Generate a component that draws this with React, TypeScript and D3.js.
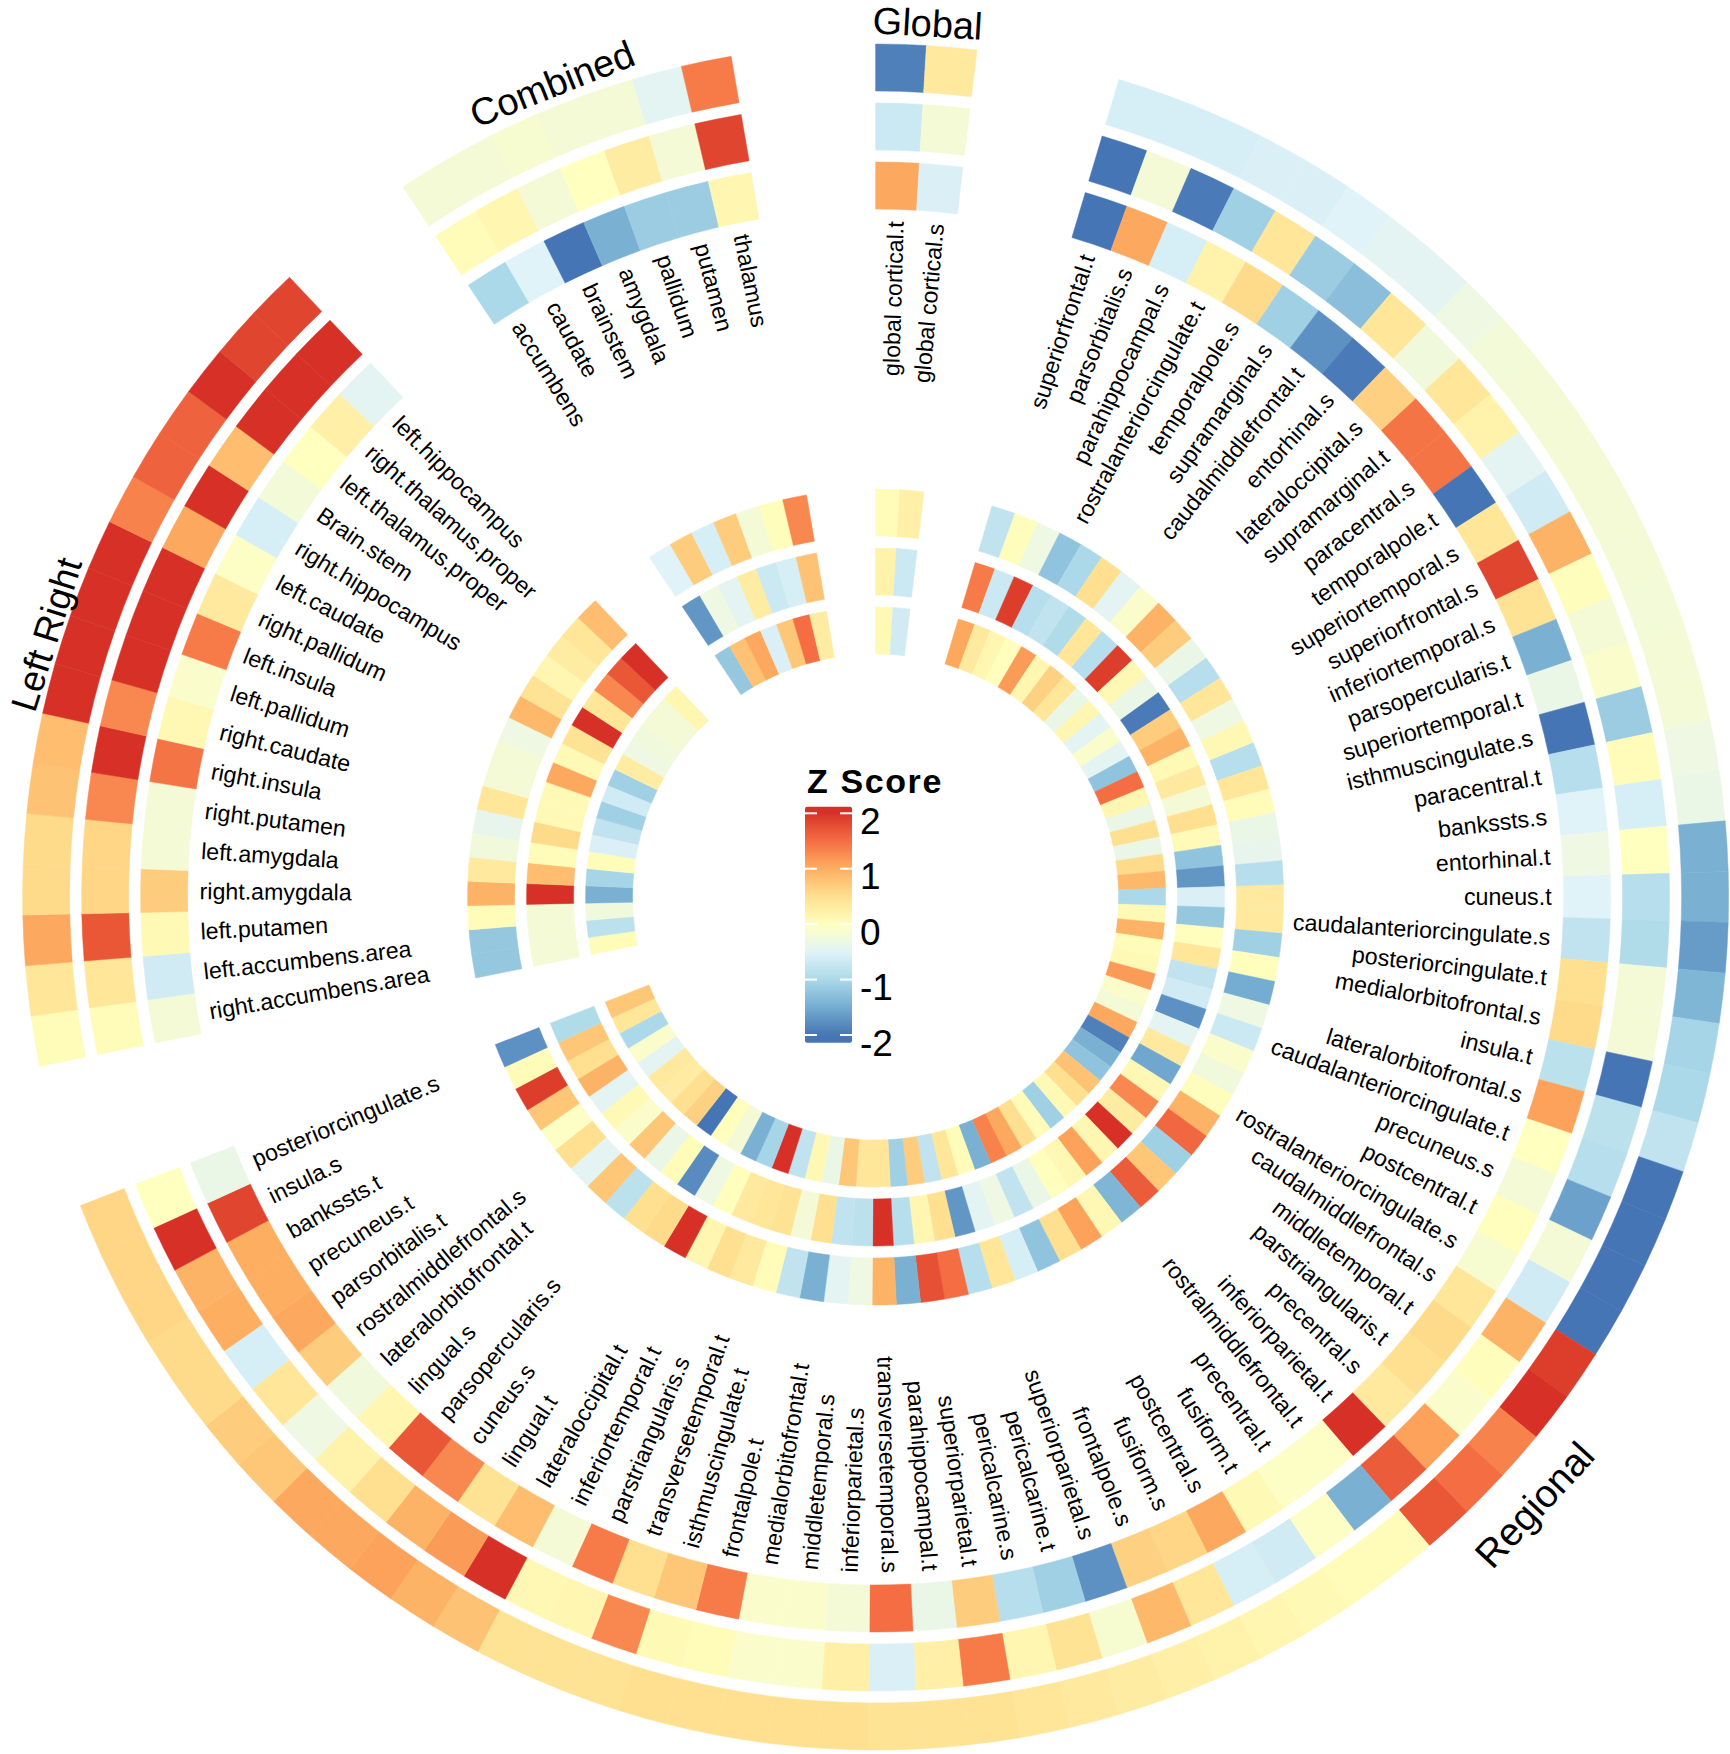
import React from "react";
import * as d3 from "d3";

const W = 1730;
const H = 1754;
const CX = 875.6;
const CY = 897;

const globalLabels = ["global cortical.t", "global cortical.s"];
const regionalLabels = ["superiorfrontal.t","parsorbitalis.s","parahippocampal.s","rostralanteriorcingulate.t","temporalpole.s","supramarginal.s","caudalmiddlefrontal.t","entorhinal.s","lateraloccipital.s","supramarginal.t","paracentral.s","temporalpole.t","superiortemporal.s","superiorfrontal.s","inferiortemporal.s","parsopercularis.t","superiortemporal.t","isthmuscingulate.s","paracentral.t","bankssts.s","entorhinal.t","cuneus.t","caudalanteriorcingulate.s","posteriorcingulate.t","medialorbitofrontal.s","insula.t","lateralorbitofrontal.s","caudalanteriorcingulate.t","precuneus.s","postcentral.t","rostralanteriorcingulate.s","caudalmiddlefrontal.s","middletemporal.t","parstriangularis.t","precentral.s","inferiorparietal.t","rostralmiddlefrontal.t","precentral.t","fusiform.t","postcentral.s","fusiform.s","frontalpole.s","superiorparietal.s","pericalcarine.t","pericalcarine.s","superiorparietal.t","parahippocampal.t","transversetemporal.s","inferiorparietal.s","middletemporal.s","medialorbitofrontal.t","frontalpole.t","isthmuscingulate.t","transversetemporal.t","parstriangularis.s","inferiortemporal.t","lateraloccipital.t","lingual.t","cuneus.s","parsopercularis.s","lingual.s","lateralorbitofrontal.t","rostralmiddlefrontal.s","parsorbitalis.t","precuneus.t","bankssts.t","insula.s","posteriorcingulate.s"];
const leftRightLabels = ["right.accumbens.area","left.accumbens.area","left.putamen","right.amygdala","left.amygdala","right.putamen","right.insula","right.caudate","left.pallidum","left.insula","right.pallidum","left.caudate","right.hippocampus","Brain.stem","left.thalamus.proper","right.thalamus.proper","left.hippocampus"];
const combinedLabels = ["accumbens","caudate","brainstem","amygdala","pallidum","putamen","thalamus"];

// Global sector, tracks 1 (outermost) .. 6 (innermost)
const globalT1 = [-1.9, 0.35];
const globalT2 = [-0.7, -0.2];
const globalT3 = [1.05, -0.55];
const globalT4 = [0.05, 0.25];
const globalT5 = [0.2, -0.7];
const globalT6 = [0.1, -0.65];

// Regional sector
const regionalT1 = [-0.6,-0.6,-0.6,-0.55,-0.55,-0.5,-0.45,-0.45,-0.3,-0.22,-0.2,-0.2,-0.2,-0.2,-0.2,-0.22,-0.2,-0.2,-0.3,-0.35,-1.45,-1.45,-1.65,-1.4,-1.05,-1.0,-0.8,-2,-2,-2,-2,1.9,2.0,1.35,1.5,1.7,0.05,0.05,0.1,0.15,0.2,0.25,0.3,0.35,0.4,0.45,0.45,0.45,0.5,0.5,0.5,0.5,0.5,0.45,0.45,0.45,0.8,0.95,1.1,1.05,1.05,0.75,0.7,0.55,0.55,0.6,0.6,0.6];
const regionalT2 = [-2,-0.2,-1.95,-1.1,0.4,-1.15,-1.3,0.4,-0.25,0.4,0.2,-0.45,-0.65,0.95,0.03,-0.2,-0.1,-1.15,0.05,-0.6,0.0,-0.9,-0.95,-0.2,-0.2,-2,-0.85,-0.9,-1.6,-0.2,-0.65,0.95,0.03,-0.1,1.1,1.65,-1.45,-0.05,-0.65,-0.6,0.4,0.9,-0.15,0.45,0.15,1.4,0.25,-0.55,0.25,-0.1,-0.1,0.05,0.1,1.3,0.15,0.12,2,1.15,0.95,0.5,0.2,-0.3,0.4,-0.6,1.0,0.95,2,0.0];
const regionalT3 = [-2,1.05,-0.6,0.2,0.55,-1.1,-1.75,-1.95,0.65,1.45,1.45,-2,0.4,1.85,0.45,-1.45,-0.35,-2,-0.9,-0.5,-0.3,-0.5,-0.8,0.5,0.55,-0.85,1.1,0.0,-0.2,0.02,-0.15,0.4,0.55,0.5,0.35,2,-0.05,-0.05,0.1,1.05,0.6,0.65,-1.75,-1.1,-0.9,0.7,-0.35,1.5,-0.2,-0.1,-0.1,1.4,0.75,0.5,1.4,-0.2,0.85,0.45,1.3,1.7,0.15,-0.25,0.7,1.05,1.0,1.0,1.85,-0.35];
const regionalT4 = [-0.8,0.03,-0.3,-1.25,-1.0,0.5,-0.45,-0.1,0.95,0.7,-0.35,-0.9,0.4,-0.3,0.12,-0.9,0.4,0.05,-0.35,-0.4,-0.9,0.35,0.35,-1.1,0.02,-1.5,-0.3,-0.7,-0.1,-0.25,0.03,0.95,1.55,-1.1,0.75,1.65,-1.4,0.12,1.1,0.5,-1.25,-0.6,0.4,-0.9,1.5,1.75,-1.45,0.95,-0.3,-0.45,-1.45,-0.8,0.05,0.35,0.5,0.15,2,0.55,0.5,-0.85,0.75,-0.45,0.5,-0.05,0.75,1.9,0.05,-1.75];
const regionalT5 = [1.4,-0.7,1.9,-0.9,-0.8,-0.95,0.4,-0.9,1.9,0.12,-0.35,-1.95,0.7,0.95,0.1,0.35,-0.2,0.5,0.08,-1.25,-1.7,-0.55,-1.2,0.02,0.4,-0.8,-0.65,-1.75,-0.45,0.35,-1.55,0.12,1.3,0.3,2,0.15,1.1,0.12,0.02,-0.35,-0.8,-0.3,-0.45,-1.7,0.5,0.15,-0.9,2,-0.85,-0.8,0.5,-0.2,0.45,0.4,0.35,0.02,-0.3,-1.8,0.05,-0.35,0.75,-0.1,0.1,-0.45,0.95,0.5,0.75,-0.95];
const regionalT6 = [1.05,0.35,0.15,0.02,1.15,0.15,0.65,0.4,-0.35,0.15,-0.45,-0.1,-0.45,-1.25,1.5,0.15,-0.35,0.5,-0.35,0.55,0.9,-1.0,0.1,0.95,0.05,0.1,1.15,-0.1,-0.2,1.05,-1.9,-1.45,-1.25,0.8,0.5,0.1,-1.1,0.05,0.5,1.05,1.35,-1.45,0.05,0.4,-0.8,0.7,-1.1,0.4,0.4,0.75,-0.35,0.12,-0.8,2,-1.05,-1.45,-0.2,0.02,-2,0.65,0.5,0.3,0.35,-0.45,-0.1,-1.0,0.4,0.75];

// Left Right sector
const leftRightT1 = [0.05,0.4,1.05,0.55,0.55,0.8,0.85,2,2,2,2,1.35,1.6,1.6,2.0,1.85,1.85];
const leftRightT2 = [0.05,0.4,1.7,0.6,0.6,1.3,2.0,1.3,2.0,2.0,2.0,1.05,2.0,0.85,2.0,2.0,2.0];
const leftRightT3 = [-0.2,-0.65,0.1,0.7,-0.2,-0.2,1.45,0.12,-0.1,1.4,0.35,-0.05,-0.6,-0.22,0.0,0.25,-0.45];
const leftRightT4 = [-1.2,-1.2,0.05,0.95,0.35,-0.25,-0.4,0.4,-0.2,-0.2,-0.3,0.9,0.45,0.15,0.3,0.4,0.85];
const leftRightT5 = [-0.2,-0.2,-0.2,2,0.85,0.05,0.55,0.1,0.1,1.05,0.1,0.45,2,0.4,1.3,1.7,2];
const leftRightT6 = [0.05,-0.85,-0.25,-1.45,-1.05,0.05,-0.55,-0.8,-1.1,-0.65,-1.1,0.3,-0.3,-0.25,-0.2,-0.2,0.15];

// Combined sector
const combinedT1 = [-0.2,-0.2,-0.15,-0.2,-0.2,-0.45,1.4];
const combinedT2 = [0.05,0.15,-0.2,0.0,0.3,-0.2,1.85];
const combinedT3 = [-1.0,-0.5,-2,-1.45,-1.15,-1.15,0.15];
const combinedT4 = [-0.5,0.7,-0.6,0.7,-0.2,0.03,1.3];
const combinedT5 = [-1.7,-0.3,-0.45,0.3,-0.7,-0.6,0.8];
const combinedT6 = [-1.2,0.8,1.05,-0.55,0.75,1.5,0.3];

const legendTicks = [2, 1, 0, -1, -2];
const colorStops = [-2, -1.5, -1, -0.5, 0, 0.5, 1, 1.5, 2];
const colorRange = ["#4575B4","#74ADD1","#ABD9E9","#E0F3F8","#FFFFBF","#FEE090","#FDAE61","#F46D43","#D73027"];

const sectors = [
  { name: "Global", labels: globalLabels, tracks: [globalT1, globalT2, globalT3, globalT4, globalT5, globalT6] },
  { name: "Regional", labels: regionalLabels, tracks: [regionalT1, regionalT2, regionalT3, regionalT4, regionalT5, regionalT6] },
  { name: "Left Right", labels: leftRightLabels, tracks: [leftRightT1, leftRightT2, leftRightT3, leftRightT4, leftRightT5, leftRightT6] },
  { name: "Combined", labels: combinedLabels, tracks: [combinedT1, combinedT2, combinedT3, combinedT4, combinedT5, combinedT6] },
];

const TRACKS = [
  [806, 853], [747, 794], [688, 735],
  [361, 408], [302, 349], [243, 290],
];
const GAP = 9.75;
const R_LABEL = 676;
const FONT = "'Liberation Sans', Arial, Helvetica, sans-serif";

export default function App() {
  const total = sectors.reduce((s, x) => s + x.labels.length, 0);
  const cell = (360 - GAP * sectors.length) / total;
  const color = d3.scaleLinear<string>()
    .domain(colorStops)
    .range(colorRange)
    .interpolate(d3.interpolateLab)
    .clamp(true);
  const arc = d3.arc<any>();
  const rad = (d: number) => (d * Math.PI) / 180;

  let pos = 0;
  const layout = sectors.map((s) => {
    const start = pos;
    pos += s.labels.length * cell + GAP;
    return { ...s, start, end: start + s.labels.length * cell };
  });

  const cells: any[] = [];
  const labels: any[] = [];
  const titles: any[] = [];
  layout.forEach((s, si) => {
    s.tracks.forEach((vals, ti) => {
      const [r0, r1] = TRACKS[ti];
      vals.forEach((v, i) => {
        const a0 = s.start + i * cell;
        const a1 = a0 + cell;
        const fill = color(v);
        cells.push(
          <path key={`c${si}-${ti}-${i}`} d={arc({ innerRadius: r0, outerRadius: r1, startAngle: rad(a0), endAngle: rad(a1) }) as string}
            fill={fill} stroke={fill} strokeWidth={0.5} />
        );
      });
    });
    s.labels.forEach((lab, i) => {
      const a = s.start + (i + 0.5) * cell;
      if (a < 180) {
        labels.push(
          <text key={`l${si}-${i}`} transform={`rotate(${a - 90})`} x={R_LABEL} y={0} textAnchor="end" dominantBaseline="central"
            fontSize={23.2} fontFamily={FONT} fill="#000">{lab}</text>
        );
      } else {
        labels.push(
          <text key={`l${si}-${i}`} transform={`rotate(${a + 90})`} x={-R_LABEL} y={0} textAnchor="start" dominantBaseline="central"
            fontSize={23.2} fontFamily={FONT} fill="#000">{lab}</text>
        );
      }
    });
    const mid = (s.start + s.end) / 2;
    if (mid > 90 && mid < 270) {
      titles.push(
        <text key={`t${si}`} transform={`rotate(${mid + 180})`} x={0} y={910} textAnchor="middle" fontSize={39} fontFamily={FONT} fill="#000">{s.name}</text>
      );
    } else {
      const rt = s.name === "Left Right" ? 857 : 862;
      const fs = s.name === "Left Right" ? 37 : 38;
      titles.push(
        <text key={`t${si}`} transform={`rotate(${mid})`} x={0} y={-rt} textAnchor="middle" fontSize={fs} fontFamily={FONT} fill="#000">{s.name}</text>
      );
    }
  });

  // legend
  const legY = d3.scaleLinear().domain([2, -2]).range([813.3, 1035]);
  const barTop = legY(2.12);
  const barBot = legY(-2.14);
  const gradStops = d3.range(0, 41).map((k) => {
    const t = k / 40;
    const v = 2.12 - t * (2.12 + 2.14);
    return <stop key={k} offset={`${t * 100}%`} stopColor={color(v)} />;
  });

  return (
    <svg width={W} height={H} viewBox={`0 0 ${W} ${H}`} style={{ position: "absolute", left: 0, top: 0, display: "block", background: "#fff" }}>
      <defs>
        <linearGradient id="zgrad" x1="0" y1="0" x2="0" y2="1">{gradStops}</linearGradient>
      </defs>
      <rect x={0} y={0} width={W} height={H} fill="#fff" />
      <g transform={`translate(${CX},${CY})`}>
        {cells}
        {labels}
        {titles}
      </g>
      <g>
        <text x={807} y={793} fontSize={34} fontWeight="bold" fontFamily={FONT} letterSpacing={1.6} fill="#000">Z Score</text>
        <rect x={805} y={barTop} width={47} height={barBot - barTop} fill="url(#zgrad)" rx={2} />
        {legendTicks.map((t) => (
          <g key={`tick${t}`}>
            <line x1={805} x2={817} y1={legY(t)} y2={legY(t)} stroke="#fff" strokeWidth={2} />
            <line x1={840} x2={852} y1={legY(t)} y2={legY(t)} stroke="#fff" strokeWidth={2} />
            <text x={860} y={legY(t) + 8} dominantBaseline="central" fontSize={37} fontFamily={FONT} fill="#000">{t < 0 ? `-${Math.abs(t)}` : `${t}`}</text>
          </g>
        ))}
      </g>
    </svg>
  );
}
